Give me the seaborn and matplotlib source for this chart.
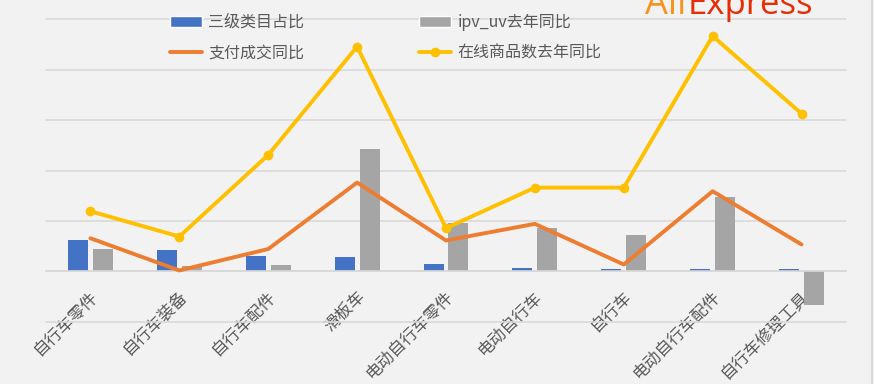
import numpy as np
import pandas as pd
import matplotlib
matplotlib.use("Agg")
import matplotlib.pyplot as plt
import seaborn as sns
from matplotlib.patches import Patch
from matplotlib.lines import Line2D

categories = ["自行车零件", "自行车装备", "自行车配件", "滑板车", "电动自行车零件",
              "电动自行车", "自行车", "电动自行车配件", "自行车修理工具"]
share_l3 = [30.5, 21, 15.3, 14, 7.3, 3.4, 2, 1.8, 1.8]            # 三级类目占比
ipv_uv_yoy = [22.2, 4.7, 6.3, 121.5, 47.5, 42.4, 36.4, 73.4, -33.3]  # ipv_uv去年同比
pay_yoy = [32.7, 0.7, 22, 88, 30.5, 47, 6.6, 79.4, 26.5]           # 支付成交同比
online_yoy = [59.5, 34.4, 115.5, 223, 42.7, 83, 83, 233.5, 156.5]  # 在线商品数去年同比

bar_series = ["三级类目占比", "ipv_uv去年同比"]
line_series = ["支付成交同比", "在线商品数去年同比"]

sns.set_theme(style="white")
plt.rcParams['font.family'] = ['Noto Sans CJK SC', 'DejaVu Sans']

BG = "#F2F2F2"
GRID = "#D9D9D9"
TXT = "#595959"
C_BLUE, C_GRAY, C_ORANGE, C_YELLOW = "#4472C4", "#A5A5A5", "#ED7D31", "#FFC000"

bars = pd.DataFrame({
    "cat": categories * 2,
    "series": [bar_series[0]] * len(categories) + [bar_series[1]] * len(categories),
    "value": share_l3 + ipv_uv_yoy,
})
x_idx = np.arange(len(categories))

fig = plt.figure(figsize=(8.74, 3.84), dpi=100)
fig.patch.set_facecolor(BG)
W, H = 874, 384
ax = fig.add_axes([46 / W, 1 - 321.5 / H, 800 / W, 302 / H])
ax.set_facecolor(BG)

sns.barplot(data=bars, x="cat", y="value", hue="series", order=categories,
            hue_order=bar_series, palette=[C_BLUE, C_GRAY], saturation=1,
            width=0.56, gap=0.2, linewidth=0, legend=False, ax=ax, zorder=2)

sns.lineplot(x=x_idx, y=pay_yoy, color=C_ORANGE, linewidth=2.8, ax=ax, zorder=3)
sns.lineplot(x=x_idx, y=online_yoy, color=C_YELLOW, linewidth=2.8, marker="o",
             markersize=7, markeredgewidth=0, ax=ax, zorder=4)

ax.set_xlim(-0.5, len(categories) - 0.5)
ax.set_ylim(-50, 250)
ax.set_yticks(np.arange(-50, 251, 50))
ax.yaxis.grid(True, color=GRID, linewidth=1.2)
for gl in ax.get_ygridlines():
    gl.set_clip_on(False)
ax.set_axisbelow(True)
ax.tick_params(axis="y", left=False, labelleft=False)
for s in ["top", "right", "left"]:
    ax.spines[s].set_visible(False)
ax.spines["bottom"].set_position(("data", 0))
ax.spines["bottom"].set_color(GRID)
ax.spines["bottom"].set_linewidth(1.2)
ax.set_xlabel("")
ax.set_ylabel("")
ax.tick_params(axis="x", length=0, pad=12, labelsize=12, labelcolor=TXT)
ax.set_xticks(x_idx - 0.01)
ax.set_xticklabels(categories, rotation=45, ha="right", va="top",
                   rotation_mode="anchor")

handles = [
    Patch(facecolor=C_BLUE, label=bar_series[0]),
    Line2D([], [], color=C_ORANGE, linewidth=2.8, label=line_series[0]),
    Patch(facecolor=C_GRAY, label=bar_series[1]),
    Line2D([], [], color=C_YELLOW, linewidth=2.8, marker="o", markersize=7,
           markeredgewidth=0, label=line_series[1]),
]
leg = fig.legend(handles=handles, loc="upper left", ncol=2,
                 bbox_to_anchor=(170 / W, 1 - 14 / H), frameon=False,
                 fontsize=11.5, handlelength=2.0, handleheight=0.6,
                 handletextpad=0.4, columnspacing=7.2, labelspacing=0.85,
                 borderaxespad=0, borderpad=0)
for t in leg.get_texts():
    t.set_color(TXT)

# watermark logo, cut at the top edge
fig.text(686 / W, 1 - 14 / H, "Ali", color="#F7931E", fontsize=26,
         family="Open Sans", ha="right", va="baseline")
fig.text(688 / W, 1 - 14 / H, "Express", color="#E62E04", fontsize=25,
         family="Open Sans", ha="left", va="baseline")

fig.add_artist(Line2D([872 / W, 872 / W], [0, 1], color=GRID, linewidth=1.5,
                      transform=fig.transFigure))

fig.savefig("out.png", dpi=100, facecolor=BG)
